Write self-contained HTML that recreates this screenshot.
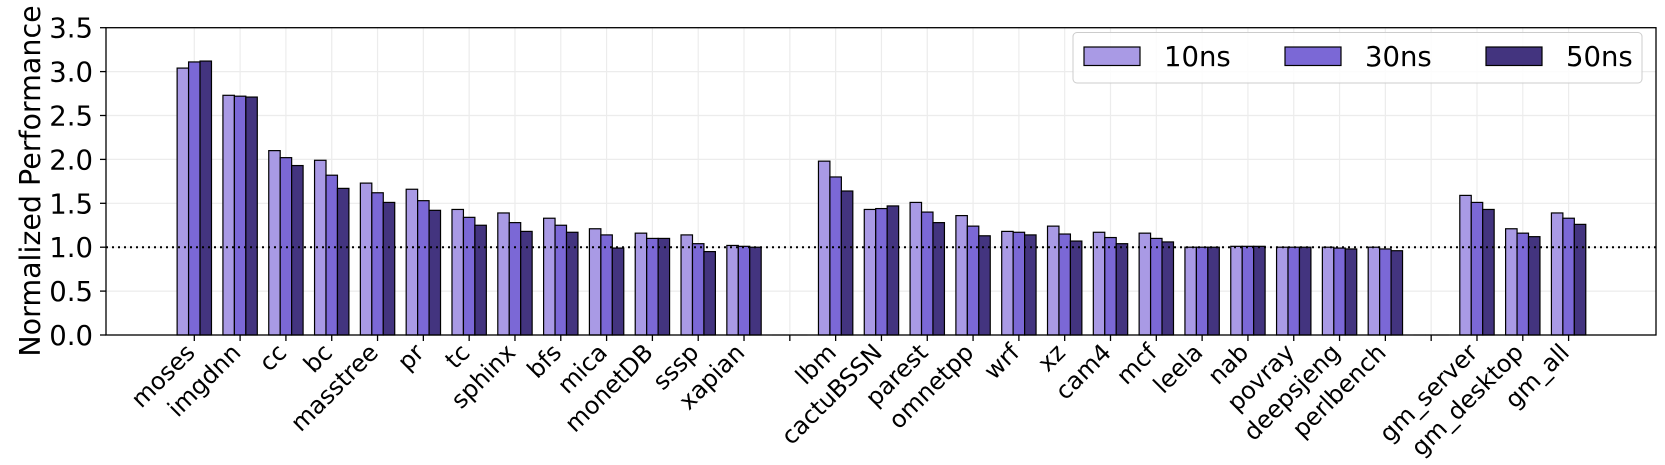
<!DOCTYPE html>
<html><head><meta charset="utf-8"><style>
html,body{margin:0;padding:0;background:#fff;}
svg{display:block;font-family:"DejaVu Sans","Liberation Sans",sans-serif;}
</style></head><body>
<svg id="chart" width="1665" height="465" viewBox="0 0 1665 465" xmlns="http://www.w3.org/2000/svg">
<g id="grid"></g>
<g id="bars"></g>
<line id="refline" stroke="#000" stroke-width="2" stroke-dasharray="2,4"></line>
<rect x="106" y="27.7" width="1550" height="307.3" fill="none" stroke="#000" stroke-width="1.3"/>
<g id="xaxis"></g>
<g id="yaxis"></g>
<text transform="translate(40,181) rotate(-90)" text-anchor="middle" font-size="28.5">Normalized Performance</text>
<g id="legend">
<rect x="1073" y="32.5" width="569" height="50.5" rx="4" fill="#fff" fill-opacity="0.85" stroke="#ccc" stroke-width="1"/>
</g>
</svg>
<script>
const categories = ["moses","imgdnn","cc","bc","masstree","pr","tc","sphinx","bfs","mica","monetDB","sssp","xapian","","lbm","cactuBSSN","parest","omnetpp","wrf","xz","cam4","mcf","leela","nab","povray","deepsjeng","perlbench","","gm_server","gm_desktop","gm_all"];
const series10 = [3.04,2.73,2.10,1.99,1.73,1.66,1.43,1.39,1.33,1.21,1.16,1.14,1.02,0,1.98,1.43,1.51,1.36,1.18,1.24,1.17,1.16,1.00,1.01,1.00,1.00,1.00,0,1.59,1.21,1.39];
const series30 = [3.11,2.72,2.02,1.82,1.62,1.53,1.34,1.28,1.25,1.14,1.10,1.04,1.01,0,1.80,1.44,1.40,1.24,1.17,1.15,1.11,1.10,1.00,1.01,1.00,0.99,0.98,0,1.51,1.16,1.33];
const series50 = [3.12,2.71,1.93,1.67,1.51,1.42,1.25,1.18,1.17,0.99,1.10,0.95,1.00,0,1.64,1.47,1.28,1.13,1.14,1.07,1.04,1.06,1.00,1.01,1.00,0.98,0.96,0,1.43,1.12,1.26];
const seriesNames = ["10ns","30ns","50ns"];
const yTicks = ["0.0","0.5","1.0","1.5","2.0","2.5","3.0","3.5"];

const NS="http://www.w3.org/2000/svg";
const colors=["#a99ae5","#7b68d6","#43347f"];
const X0=194.3, DX=45.81, Y0=335, YT=27.7, YMAX=3.5;
const xS=i=>X0+i*DX;
const yS=v=>Y0-(v/YMAX)*(Y0-YT);
function mk(tag,attrs,parent){const e=document.createElementNS(NS,tag);for(const k in attrs)e.setAttribute(k,attrs[k]);parent.appendChild(e);return e;}
const grid=document.getElementById('grid'),bars=document.getElementById('bars'),xa=document.getElementById('xaxis'),ya=document.getElementById('yaxis');
yTicks.forEach(t=>{
  const y=yS(parseFloat(t));
  const g=mk('line',{x1:106,x2:1656,y1:y,y2:y,stroke:'#ececec','stroke-width':1.2},grid);
  
  
  const tk=mk('line',{x1:100,x2:106,y1:y,y2:y,stroke:'#000','stroke-width':1.3},ya);
  
  
  const tx=mk('text',{x:93,y:y+10,'text-anchor':'end','font-size':27.5},ya);
  tx.textContent=t;
  
  
});
const all=[series10,series30,series50];
const bw=DX*0.25;
categories.forEach((c,i)=>{
  const x=xS(i);
  const g=mk('line',{x1:x,x2:x,y1:YT,y2:Y0,stroke:'#ececec','stroke-width':1.2},grid);
  
  
  all.forEach((s,k)=>{
    const v=s[i];const y=yS(v);
    const r=mk('rect',{x:x+(k-1.5)*bw,y:y,width:bw,height:Math.max(Y0-y,0.01),fill:colors[k],stroke:v>0?'#000':'#ccc','stroke-width':1.2},bars);
    
    
  });
  const tk=mk('line',{x1:x,x2:x,y1:Y0,y2:Y0+6,stroke:'#000','stroke-width':1.3},xa);
  
  
  if(c){
    const tx=mk('text',{transform:`translate(${x+2},${Y0+19}) rotate(-45)`,'text-anchor':'end','font-size':24},xa);
    tx.textContent=c;
    
    
  }
});
const rl=document.getElementById('refline');
rl.setAttribute('x1',106);rl.setAttribute('x2',1656);rl.setAttribute('y1',yS(1));rl.setAttribute('y2',yS(1));
const lg=document.getElementById('legend');
const px=[1084,1285,1486];
seriesNames.forEach((n,k)=>{
  const r=mk('rect',{x:px[k],y:47,width:56,height:18.5,fill:colors[k],stroke:'#000','stroke-width':1.2},lg);
  
  
  const t=mk('text',{x:px[k]+80,y:66,'font-size':27.5},lg);
  t.textContent=n;
  
  
});
</script>
</body></html>
